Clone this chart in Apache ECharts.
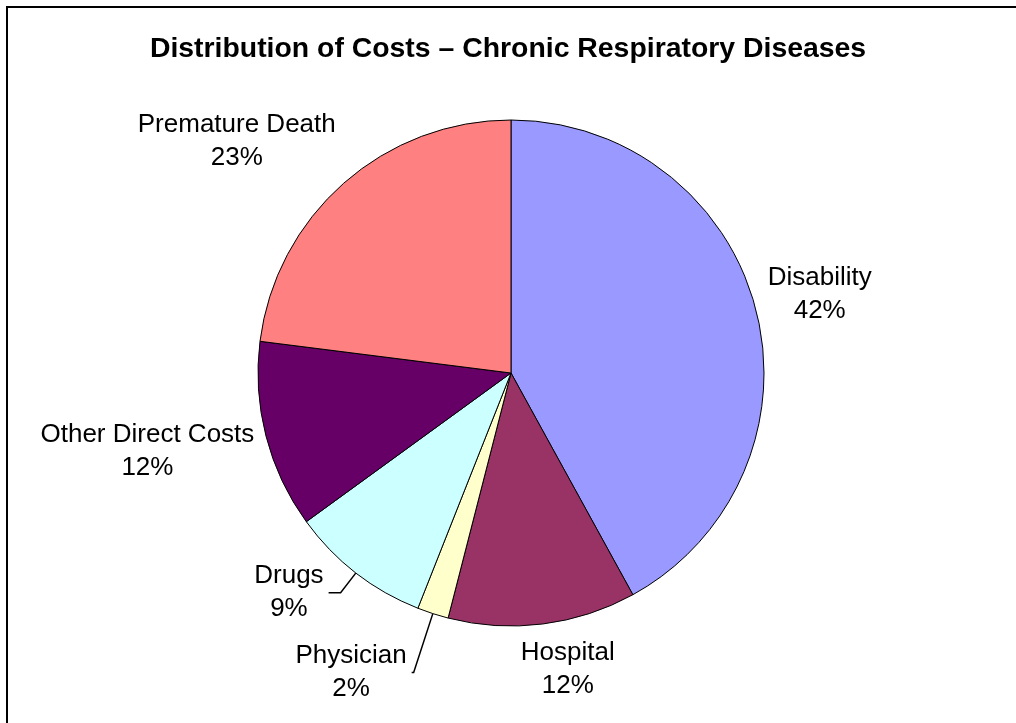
<!DOCTYPE html>
<html>
<head>
<meta charset="utf-8">
<script src="https://cdn.jsdelivr.net/npm/echarts@6/dist/echarts.min.js"></script>
<style>
html, body { margin: 0; padding: 0; background: #fff; }
#main { width: 1016px; height: 723px; }
</style>
</head>
<body>
<div id="main"></div>
<script>
// slices, clockwise from 12 o'clock
const categories = ['Disability', 'Hospital', 'Physician', 'Drugs', 'Other Direct Costs', 'Premature Death']
const shares = [42, 12, 2, 9, 12, 23]
const sliceColors = ['#9999ff', '#993366', '#ffffcc', '#ccffff', '#660066', '#ff8080']
// labels that hang on a leader line: [length, length2]
const leaderLines = { Drugs: [25, 12], Physician: [62, 2] }

const pieCenter = [511, 373]
const pieRadius = 253
const labelGap = 12
const total = shares.reduce((a, b) => a + b, 0)

function midAngle(i) {
 let before = 0
 for (let k = 0; k < i; k++) before += shares[k]
 return (before + shares[i] / 2) / total * 2 * Math.PI
}
const clamp1 = v => Math.max(-1, Math.min(1, v))

const chart = echarts.init(document.getElementById('main'))
chart.setOption({
 animation: false,
 backgroundColor: '#fff',
 title: {
  text: 'Distribution of Costs – Chronic Respiratory Diseases',
  left: 'center',
  top: 30,
  textStyle: {
   fontFamily: 'Liberation Sans, Arial, sans-serif',
   fontSize: 28.4,
   fontWeight: 'bold',
   color: '#000'
  }
 },
 graphic: [
  {
   type: 'rect',
   shape: { x: 7, y: 7, width: 1200, height: 900 },
   style: { fill: 'none', stroke: '#000', lineWidth: 2 }
  }
 ],
 series: [
  {
   type: 'pie',
   center: pieCenter,
   radius: pieRadius,
   startAngle: 90,
   clockwise: true,
   avoidLabelOverlap: false,
   itemStyle: { borderColor: '#000', borderWidth: 1 },
   emphasis: { disabled: true },
   label: {
    show: true,
    position: 'outside',
    formatter: '{b}\n{c}%',
    fontFamily: 'Liberation Sans, Arial, sans-serif',
    fontSize: 26,
    lineHeight: 33,
    color: '#000'
   },
   labelLine: {
    show: false,
    length: 10,
    length2: 0,
    lineStyle: { color: '#000', width: 1.5 }
   },
   data: categories.map((name, i) => {
    const item = { name: name, value: shares[i], itemStyle: { color: sliceColors[i] } }
    if (leaderLines[name]) {
     item.labelLine = { show: true, length: leaderLines[name][0], length2: leaderLines[name][1] }
    }
    return item
   }),
   // place each free label just outside the rim, pushed away along its mid angle
   labelLayout: function (p) {
    const a = midAngle(p.dataIndex)
    const ux = Math.sin(a), uy = -Math.cos(a)
    const w = p.labelRect.width, h = p.labelRect.height
    if (leaderLines[categories[p.dataIndex]]) {
     return { align: 'center', dx: (ux < 0 ? -1 : 1) * w / 2 }
    }
    const px = pieCenter[0] + (pieRadius + labelGap) * ux
    const py = pieCenter[1] + (pieRadius + labelGap) * uy
    return {
     x: px + clamp1(ux * 4) * w / 2,
     y: py + clamp1(uy * 1.5) * h / 2,
     align: 'center',
     verticalAlign: 'middle'
    }
   }
  }
 ]
})
</script>
</body>
</html>
